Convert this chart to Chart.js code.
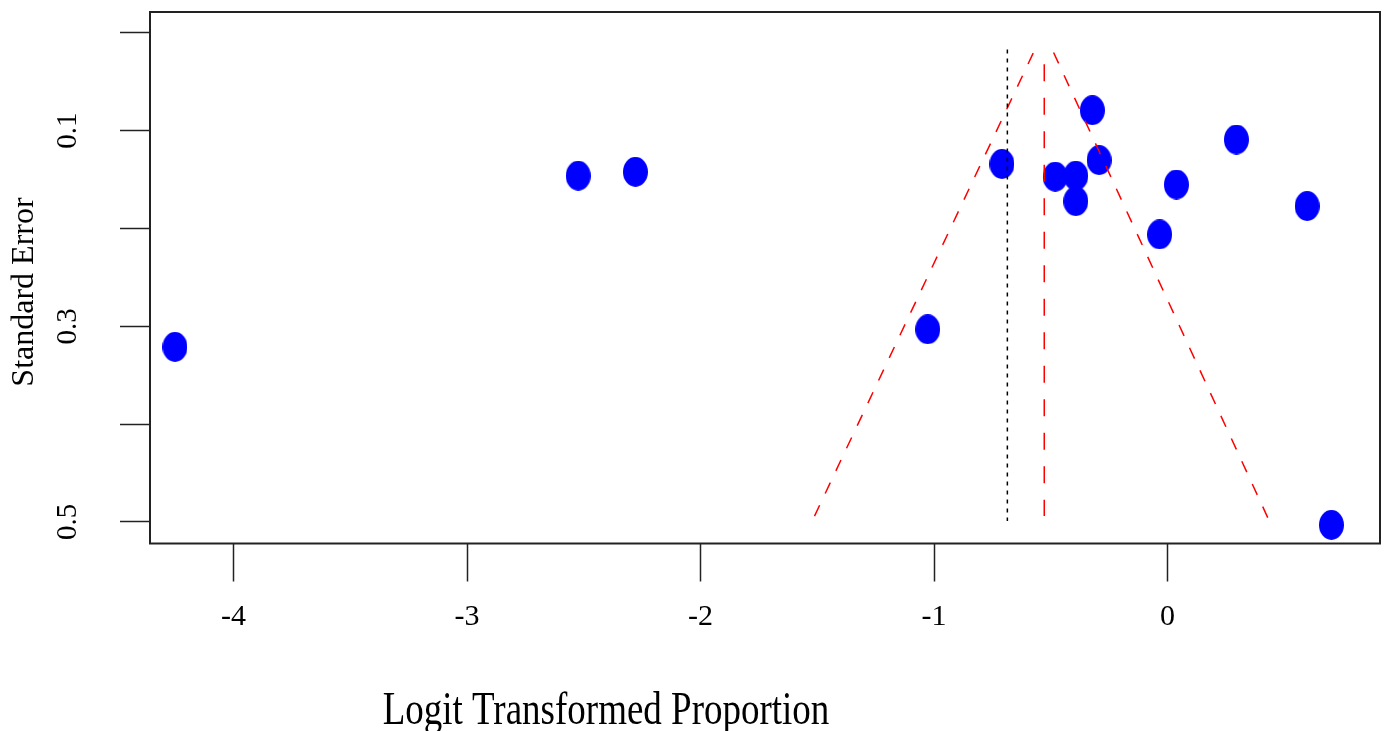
<!DOCTYPE html>
<html lang="en">
<head>
    <meta charset="UTF-8">
    <title>Funnel Plot</title>
    <script src="https://cdn.jsdelivr.net/npm/chart.js"></script>
    <style>
        html, body { margin: 0; padding: 0; background: #fff; }
        #wrap { width: 1392px; height: 731px; }
    </style>
</head>
<body>
    <div id="wrap"><canvas id="funnelChart"></canvas></div>

    <script>
        // study estimates (logit proportion) and standard errors
        const studyTE = [-4.251, -2.524, -2.279, -1.027, -0.709, -0.322, -0.293, -0.481, -0.393, -0.393, -0.034, 0.038, 0.295, 0.598, 0.702];
        const studySE = [0.321, 0.146, 0.142, 0.303, 0.134, 0.079, 0.130, 0.147, 0.146, 0.172, 0.206, 0.155, 0.109, 0.177, 0.503];

        // pooled estimates (vertical reference lines)
        const commonTE = -0.686;
        const commonSE = [0.017, 0.499];
        const randomTE = -0.528;
        const randomSE = [0.032, 0.494];

        // pseudo confidence funnel end points
        const funnelLeftTE = [-1.512, -0.574];
        const funnelLeftSE = [0.494, 0.020];
        const funnelRightTE = [-0.488, 0.434];
        const funnelRightSE = [0.020, 0.498];

        const xTicks = [-4, -3, -2, -1, 0];
        const xTickLabels = ['-4', '-3', '-2', '-1', '0'];
        const yTicks = [0, 0.1, 0.2, 0.3, 0.4, 0.5];
        const yTickLabels = ['', '0.1', '', '0.3', '', '0.5'];

        const serif = '"Liberation Serif", "Times New Roman", serif';
        const toXY = (xs, ys) => xs.map((v, i) => ({ x: v, y: ys[i] }));

        // blue filled dot, a bit taller than wide like the original
        function makeDot(w, h, color) {
            const c = document.createElement('canvas');
            c.width = w;
            c.height = h;
            const g = c.getContext('2d');
            g.fillStyle = color;
            g.beginPath();
            g.ellipse(w / 2, h / 2, w / 2, h / 2, 0, 0, Math.PI * 2);
            g.fill();
            return c;
        }
        const dot = makeDot(25, 30, '#0000ff');

        // box around plot + axis titles
        const frame = {
            id: 'frame',
            afterDraw(chart) {
                const { ctx, chartArea: a } = chart;
                ctx.save();
                ctx.strokeStyle = '#222';
                ctx.lineWidth = 2;
                ctx.strokeRect(a.left, a.top, a.right - a.left, a.bottom - a.top);

                ctx.fillStyle = '#000';
                ctx.textAlign = 'center';
                ctx.textBaseline = 'alphabetic';
                ctx.font = '37px ' + serif;
                ctx.translate(606, 724);
                ctx.scale(1, 1.28);
                ctx.fillText('Logit Transformed Proportion', 0, 0);
                ctx.restore();

                ctx.save();
                ctx.fillStyle = '#000';
                ctx.textAlign = 'center';
                ctx.textBaseline = 'alphabetic';
                ctx.font = '32px ' + serif;
                ctx.translate(33, 292);
                ctx.rotate(-Math.PI / 2);
                ctx.fillText('Standard Error', 0, 0);
                ctx.restore();
            }
        };

        const ctx = document.getElementById('funnelChart').getContext('2d');
        const funnelChart = new Chart(ctx, {
            type: 'scatter',
            data: {
                datasets: [
                    {
                        data: toXY([commonTE, commonTE], commonSE),
                        showLine: true, borderColor: '#000', borderWidth: 1.5,
                        borderDash: [4, 5], pointRadius: 0, order: 1
                    },
                    {
                        data: toXY([randomTE, randomTE], randomSE),
                        showLine: true, borderColor: '#ff0000', borderWidth: 1.5,
                        borderDash: [17, 16.5], pointRadius: 0, order: 1
                    },
                    {
                        data: toXY(funnelLeftTE, funnelLeftSE),
                        showLine: true, borderColor: '#ff0000', borderWidth: 1.5,
                        borderDash: [12, 13], pointRadius: 0, order: 1
                    },
                    {
                        data: toXY(funnelRightTE, funnelRightSE),
                        showLine: true, borderColor: '#ff0000', borderWidth: 1.5,
                        borderDash: [12, 13], pointRadius: 0, order: 1
                    },
                    {
                        data: toXY(studyTE, studySE),
                        pointStyle: dot, pointRadius: 12,
                        backgroundColor: '#0000ff', borderWidth: 0, order: 2
                    }
                ]
            },
            options: {
                responsive: true,
                maintainAspectRatio: false,
                devicePixelRatio: 1,
                animation: false,
                layout: { padding: { top: 11, right: 10, left: 0, bottom: 0 } },
                plugins: {
                    legend: { display: false },
                    tooltip: { enabled: false }
                },
                scales: {
                    x: {
                        type: 'linear',
                        min: -4.358,
                        max: 0.910,
                        afterBuildTicks: s => { s.ticks = xTicks.map(v => ({ value: v })); },
                        afterFit: s => { s.height = 187.5; s.paddingLeft = 0; s.paddingRight = 0; },
                        ticks: {
                            callback: (v, i) => xTickLabels[i],
                            font: { family: serif, size: 30 },
                            color: '#000',
                            padding: 18,
                            maxRotation: 0,
                            autoSkip: false
                        },
                        grid: { drawOnChartArea: false, tickLength: 38, tickWidth: 1.5, tickColor: '#222' },
                        border: { display: false }
                    },
                    y: {
                        type: 'linear',
                        reverse: true,
                        min: -0.0214,
                        max: 0.522,
                        afterBuildTicks: s => { s.ticks = yTicks.map(v => ({ value: v })); },
                        afterFit: s => { s.width = 150; s.paddingTop = 0; s.paddingBottom = 0; },
                        ticks: {
                            callback: (v, i) => yTickLabels[i],
                            font: { family: serif, size: 29 },
                            color: '#000',
                            minRotation: 90,
                            maxRotation: 90,
                            crossAlign: 'center',
                            padding: 33,
                            autoSkip: false
                        },
                        grid: { drawOnChartArea: false, tickLength: 30, tickWidth: 1.5, tickColor: '#222' },
                        border: { display: false }
                    }
                }
            },
            plugins: [frame]
        });
    </script>
</body>
</html>
